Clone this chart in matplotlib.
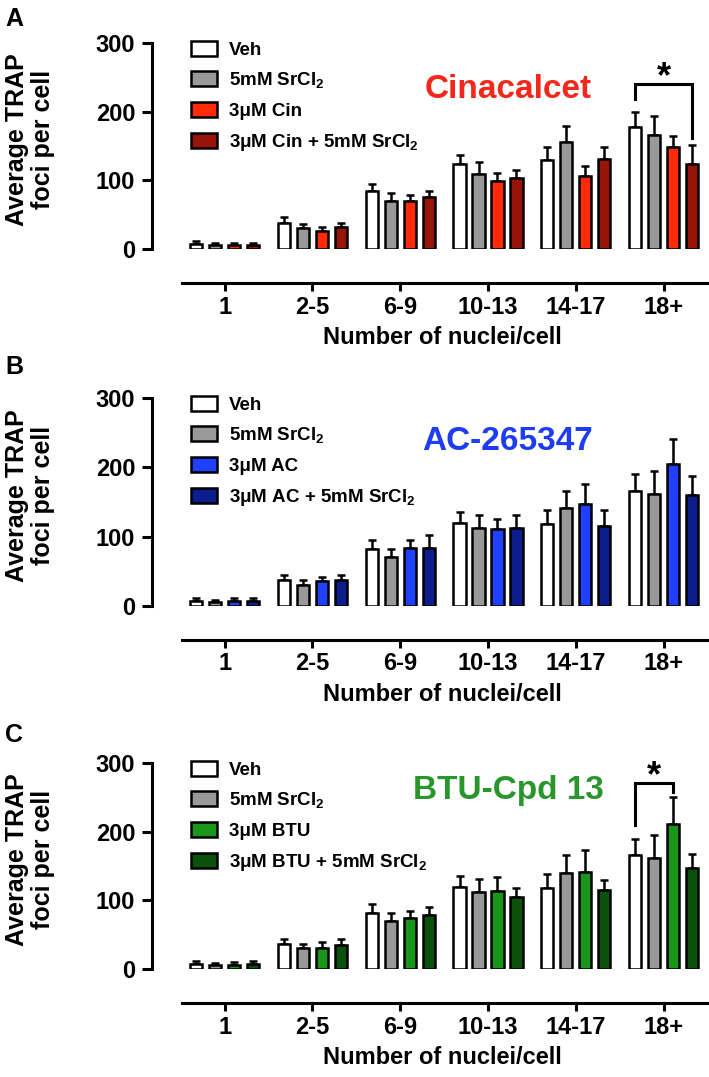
import numpy as np
import matplotlib
matplotlib.use('Agg')
import matplotlib.pyplot as plt
from matplotlib.patches import Patch

plt.rcParams['font.family'] = ['Liberation Sans', 'DejaVu Sans']
plt.rcParams['font.weight'] = 'bold'
plt.rcParams['mathtext.fontset'] = 'custom'
plt.rcParams['mathtext.rm'] = 'Liberation Sans:bold'
plt.rcParams['mathtext.it'] = 'Liberation Sans:bold'
plt.rcParams['mathtext.bf'] = 'Liberation Sans:bold'

# ---- data ----
categories = ['1', '2-5', '6-9', '10-13', '14-17', '18+']
panel_letters = ['A', 'B', 'C']
drug_names = ['Cinacalcet', 'AC-265347', 'BTU-Cpd 13']
drug_colors = ['#f2281c', '#1e3cf2', '#28962a']

labels_a = ['Veh', r'5mM SrCl$_2$', '3μM Cin', r'3μM Cin + 5mM SrCl$_2$']
labels_b = ['Veh', r'5mM SrCl$_2$', '3μM AC', r'3μM AC + 5mM SrCl$_2$']
labels_c = ['Veh', r'5mM SrCl$_2$', '3μM BTU', r'3μM BTU + 5mM SrCl$_2$']

colors_a = ['white', '#999999', '#ff2a08', '#981408']
colors_b = ['white', '#999999', '#1f40ff', '#0c1e8e']
colors_c = ['white', '#999999', '#1a971a', '#0a520c']

means_a = [[7, 38, 84, 124, 129, 178],
           [6, 30, 70, 109, 156, 166],
           [6, 26, 70, 99, 106, 148],
           [6, 32, 76, 104, 131, 124]]
errs_a = [[5, 8, 11, 13, 19, 22],
          [3, 6, 11, 17, 23, 28],
          [3, 6, 9, 11, 15, 17],
          [3, 6, 9, 11, 18, 28]]

means_b = [[7, 37, 82, 119, 118, 166],
           [6, 31, 70, 112, 141, 161],
           [7, 36, 83, 111, 147, 205],
           [7, 37, 84, 113, 115, 160]]
errs_b = [[5, 7, 13, 17, 21, 25],
          [3, 6, 12, 19, 25, 34],
          [4, 6, 12, 14, 29, 36],
          [4, 8, 19, 18, 24, 27]]

means_c = [[7, 36, 82, 120, 118, 166],
           [6, 30, 70, 112, 140, 161],
           [6, 31, 75, 114, 141, 211],
           [7, 35, 78, 105, 115, 147]]
errs_c = [[5, 8, 13, 16, 21, 24],
          [3, 6, 12, 19, 26, 34],
          [4, 8, 10, 20, 33, 39],
          [4, 8, 13, 13, 15, 21]]

# significance: (group, series_left, series_right, bracket_top, leg_left_end, leg_right_end)
sig_a = [(5, 0, 3, 240, 218, 162)]
sig_b = []
sig_c = [(5, 0, 2, 271, 210, 258)]

panels = [
    (labels_a, colors_a, means_a, errs_a, sig_a),
    (labels_b, colors_b, means_b, errs_b, sig_b),
    (labels_c, colors_c, means_c, errs_c, sig_c),
]

# ---- layout (pixels of the 709x1077 figure) ----
W, H = 709, 1077
zero_px = [249, 606, 969]
top_px = [43, 398, 763]
left_px = 152
title_y_px = [90, 442, 790]
letter_y_px = [19, 367, 735]
x0_px = 224.6
px_per_unit = 87.8

bar_w = 0.14
step = 0.216
edge_lw = 1.8

fig = plt.figure(figsize=(W / 100, H / 100), dpi=100)

for p, (labels, colors, means, errs, sigs) in enumerate(panels):
    b = 1 - zero_px[p] / H
    hpx = zero_px[p] - top_px[p]
    ax = fig.add_axes([left_px / W, b, (W - left_px) / W, hpx / H])

    x = np.arange(len(categories))
    for i in range(4):
        xi = x + (i - 1.5) * step
        ax.errorbar(xi, means[i], yerr=[np.zeros(6), errs[i]], fmt='none',
                    ecolor='black', elinewidth=1.8, capsize=3.2, capthick=1.8, zorder=2)
        ax.bar(xi, means[i], width=bar_w, color=colors[i], edgecolor='black',
               linewidth=edge_lw, zorder=3, label=labels[i])

    xl = (left_px - x0_px) / px_per_unit
    xr = (W - x0_px) / px_per_unit
    ax.set_xlim(xl, xr)
    ax.set_ylim(0, 300)

    for s in ['top', 'right']:
        ax.spines[s].set_visible(False)
    ax.spines['left'].set_linewidth(2.2)
    ax.spines['bottom'].set_linewidth(2.2)
    ax.spines['left'].set_bounds(0, 300)
    ax.spines['bottom'].set_position(('outward', 34 * 0.72))
    ax.spines['bottom'].set_bounds((182 - x0_px) / px_per_unit, xr)

    ax.set_yticks([0, 100, 200, 300])
    ax.set_xticks(x)
    ax.set_xticklabels(categories)
    ax.tick_params(axis='y', direction='out', length=7, width=2.2, pad=5, labelsize=17)
    ax.tick_params(axis='x', direction='out', length=6, width=2.2, pad=3, labelsize=17)
    for t in ax.get_xticklabels() + ax.get_yticklabels():
        t.set_fontweight('bold')

    ax.text((30 - left_px) / (W - left_px), 0.53, 'Average TRAP\nfoci per cell',
            transform=ax.transAxes, rotation=90, ha='center', va='center',
            fontsize=18, fontweight='bold', linespacing=1.1)
    ax.text((442 - left_px) / (W - left_px), -88 / hpx,
            'Number of nuclei/cell', transform=ax.transAxes, ha='center', va='center',
            fontsize=17, fontweight='bold')

    handles = [Patch(facecolor=c, edgecolor='black', linewidth=edge_lw) for c in colors]
    ax.legend(handles=handles, labels=labels, loc='upper left', frameon=False,
              bbox_to_anchor=((189 - left_px) / (W - left_px), 1.02), borderaxespad=0,
              borderpad=0.1, handlelength=1.4, handleheight=0.85,
              handletextpad=0.65, labelspacing=0.62, prop={'weight': 'bold', 'size': 13.5})

    fig.text(508 / W, 1 - title_y_px[p] / H, drug_names[p], color=drug_colors[p],
             ha='center', va='center', fontsize=24, fontweight='bold')
    fig.text(14 / W, 1 - letter_y_px[p] / H, panel_letters[p], ha='center', va='center',
             fontsize=18, fontweight='bold')

    for g, si, sj, ytop, yl, yr in sigs:
        xa = g + (si - 1.5) * step
        xb = g + (sj - 1.5) * step
        ax.plot([xa, xa, xb, xb], [yl, ytop, ytop, yr], color='black', lw=2.2,
                clip_on=False, zorder=4, solid_joinstyle='miter')
        ax.text((xa + xb) / 2, ytop + 9, '*', ha='center', va='center',
                fontsize=26, fontweight='bold', clip_on=False)

fig.savefig('out.png', dpi=100)
